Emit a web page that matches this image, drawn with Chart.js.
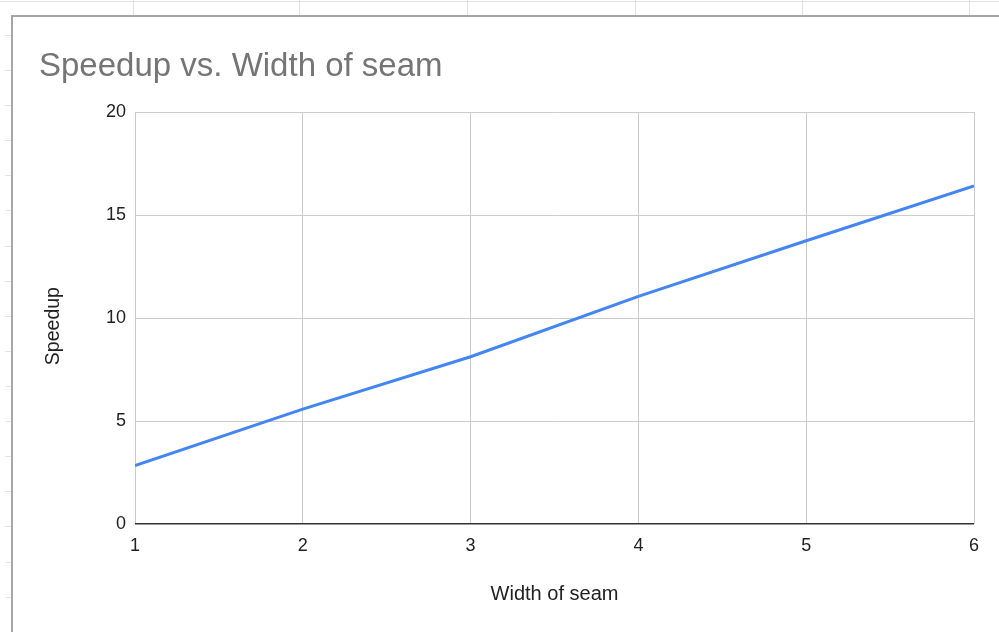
<!DOCTYPE html>
<html>
<head>
<meta charset="utf-8">
<script src="https://cdn.jsdelivr.net/npm/chart.js@4.4.1/dist/chart.umd.min.js"></script>
<style>
  html, body { margin: 0; padding: 0; background: #ffffff; overflow: hidden; }
  body { width: 999px; height: 632px; position: relative; }
  .sheet-line { position: absolute; background: #e2e2e2; }
  #frame {
    position: absolute; left: 11px; top: 15px; width: 1000px; height: 700px;
    border: 2px solid #a6a6a6; background: #ffffff; box-sizing: border-box;
  }
  #wrap { position: absolute; left: 0; top: 0; width: 999px; height: 632px; }
</style>
</head>
<body>
<div id="sheet"></div>
<div id="frame"></div>
<div id="wrap"><canvas id="chart" width="999" height="632"></canvas></div>
<script>
// Seam width (x) and measured speedup (y)
const seamWidths = [1, 2, 3, 4, 5, 6];
const speedups = [2.83, 5.58, 8.12, 11.05, 13.75, 16.41];
const yTicks = [0, 5, 10, 15, 20];
const xTicks = [1, 2, 3, 4, 5, 6];

// Spreadsheet cell grid peeking out around the embedded chart
const sheet = document.getElementById('sheet');
function line(l, t, w, h) {
  const d = document.createElement('div');
  d.className = 'sheet-line';
  d.style.left = l + 'px'; d.style.top = t + 'px';
  d.style.width = w + 'px'; d.style.height = h + 'px';
  sheet.appendChild(d);
}
line(0, 1, 999, 1);
[133, 299, 467, 635, 802, 969].forEach(x => line(x, 0, 1, 16));
for (let y = 35; y < 632; y += 35.1) line(5, Math.round(y), 6, 1);

const points = seamWidths.map((x, i) => ({ x: x, y: speedups[i] }));
const FONT = 'Arial, "Liberation Sans", sans-serif';

new Chart(document.getElementById('chart'), {
  type: 'line',
  data: {
    datasets: [{
      label: 'Speedup',
      data: points,
      borderColor: '#4285f4',
      borderWidth: 3,
      pointRadius: 0,
      pointHoverRadius: 0,
      tension: 0,
      fill: false
    }]
  },
  options: {
    responsive: false,
    animation: false,
    layout: { padding: { top: 0, left: 39, right: 25, bottom: 0 } },
    plugins: {
      legend: { display: false },
      tooltip: { enabled: false },
      title: {
        display: true,
        text: 'Speedup vs. Width of seam',
        align: 'start',
        color: '#757575',
        font: { family: FONT, size: 33, weight: 'normal', lineHeight: 1.2 },
        padding: { top: 47, bottom: 25.4 }
      }
    },
    scales: {
      x: {
        type: 'linear',
        min: 1,
        max: 6,
        afterBuildTicks: s => { s.ticks = xTicks.map(v => ({ value: v })); },
        afterFit: s => { s.height = 108; },
        border: { display: false },
        grid: { color: '#cccccc', lineWidth: 1, drawTicks: false },
        ticks: {
          padding: 11,
          color: '#222222',
          font: { family: FONT, size: 18 }
        },
        title: {
          display: true,
          text: 'Width of seam',
          color: '#222222',
          font: { family: FONT, size: 20 },
          padding: { top: 0, bottom: 26 }
        }
      },
      y: {
        min: 0,
        max: 20,
        afterBuildTicks: s => { s.ticks = yTicks.map(v => ({ value: v })); },
        afterFit: s => { s.width = 96; },
        border: { display: false },
        grid: {
          drawTicks: false,
          color: c => (c.tick && c.tick.value === 0) ? '#333333' : '#cccccc',
          lineWidth: c => (c.tick && c.tick.value === 0) ? 1.5 : 1
        },
        ticks: {
          padding: 9,
          color: '#222222',
          font: { family: FONT, size: 18 }
        },
        title: {
          display: true,
          text: 'Speedup   ',
          color: '#222222',
          font: { family: FONT, size: 19.5 },
          padding: { top: 3, bottom: 0 }
        }
      }
    }
  }
});
</script>
</body>
</html>
